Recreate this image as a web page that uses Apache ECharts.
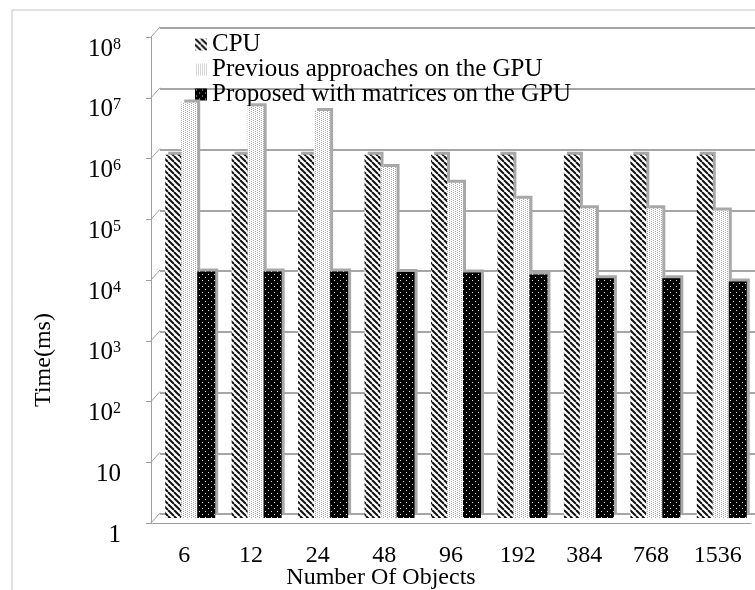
<!DOCTYPE html>
<html>
<head>
<meta charset="utf-8">
<script src="https://cdn.jsdelivr.net/npm/echarts@6/dist/echarts.min.js"></script>
<style>
  html, body { margin: 0; padding: 0; background: #fff; }
  #chart { width: 755px; height: 590px; }
</style>
</head>
<body>
<div id="chart"></div>
<script>
// values (ms, log scale)
const categories = ['6', '12', '24', '48', '96', '192', '384', '768', '1536']
const cpuTimes = [950000, 950000, 950000, 950000, 950000, 950000, 950000, 950000, 950000]
const previousTimes = [6900000, 6000000, 5000000, 600000, 330000, 180000, 125000, 125000, 115000]
const proposedTimes = [11400, 11400, 11400, 11200, 11000, 10200, 8800, 8800, 7800]
const yTicks = [1, 10, 100, 1000, 10000, 100000, 1000000, 10000000, 100000000]
const seriesNames = ['CPU', 'Previous approaches on the GPU', 'Proposed with matrices on the GPU']

const font = "'Liberation Serif', 'Times New Roman', serif"
const gray = '#9f9f9f'

// fill patterns, like the old excel ones
function makeTile (w, h, bg, draw) {
  let c = document.createElement('canvas')
  c.width = w
  c.height = h
  let ctx = c.getContext('2d')
  ctx.fillStyle = bg
  ctx.fillRect(0, 0, w, h)
  draw(ctx)
  return c
}
const hatch = makeTile(6, 6, '#fff', function (ctx) {
  ctx.strokeStyle = '#111'
  ctx.lineWidth = 2
  for (let i = -1; i <= 1; i++) {
    ctx.beginPath()
    ctx.moveTo(i * 6, 0)
    ctx.lineTo(i * 6 + 6, 6)
    ctx.stroke()
  }
})
const lightDots = makeTile(4, 4, '#fff', function (ctx) {
  ctx.fillStyle = '#aaa'
  ctx.fillRect(1, 0, 1, 1)
  ctx.fillRect(1, 2, 1, 1)
  ctx.fillRect(3, 1, 1, 1)
  ctx.fillRect(3, 3, 1, 1)
})
const darkDots = makeTile(6, 6, '#000', function (ctx) {
  ctx.fillStyle = '#ddd'
  ctx.fillRect(1, 1, 1, 1)
  ctx.fillRect(4, 4, 1, 1)
})
const fills = [hatch, lightDots, darkDots]
const values = [cpuTimes, previousTimes, proposedTimes]
const widths = [16, 16, 18]

function tickLabel (v) {
  let e = Math.round(Math.log10(v))
  if (e === 0) return '{b|1}'
  if (e === 1) return '{b|10}'
  return '{b|10}{s|' + e + '}'
}

let barSeries = seriesNames.map(function (name, i) {
  return {
    name: name,
    type: 'bar',
    xAxisIndex: 1,
    yAxisIndex: 1,
    barWidth: widths[i],
    barGap: '0%',
    data: values[i],
    itemStyle: {
      color: { image: fills[i], repeat: 'repeat' },
      shadowColor: '#a8a8a8',
      shadowOffsetX: 3,
      shadowOffsetY: -3,
      shadowBlur: 0
    },
    z: 3 + i
  }
})

let myChart = echarts.init(document.getElementById('chart'))
myChart.setOption({
  animation: false,
  textStyle: { fontFamily: font, color: '#000' },
  graphic: [{
    type: 'rect',
    shape: { x: 12, y: 10, width: 800, height: 700 },
    style: { fill: 'none', stroke: '#c4c4c4', lineWidth: 1 },
    z: -1
  }],
  legend: {
    data: seriesNames,
    orient: 'vertical',
    left: 190,
    top: 27,
    itemWidth: 12,
    itemHeight: 12,
    itemGap: 0,
    icon: 'rect',
    textStyle: { fontFamily: font, fontSize: 25, color: '#000', lineHeight: 25 }
  },
  grid: [
    // back wall
    { left: 160, top: 28, bottom: 76, right: -3, outerBoundsMode: 'none' },
    // bars, half way in depth
    { left: 157, top: 32, bottom: 72, right: 0, outerBoundsMode: 'none' },
    // front axes
    { left: 151, top: 37, bottom: 67, right: 4, outerBoundsMode: 'none' }
  ],
  xAxis: [
    { type: 'category', gridIndex: 0, data: categories, show: false },
    { type: 'category', gridIndex: 1, data: categories, show: false },
    {
      type: 'category',
      gridIndex: 2,
      data: categories,
      axisLine: { lineStyle: { color: gray } },
      axisTick: { length: 8, lineStyle: { color: gray } },
      axisLabel: { fontSize: 24, color: '#000', fontFamily: font, margin: 21 },
      name: 'Number Of Objects',
      nameLocation: 'middle',
      nameGap: 43,
      nameMoveOverlap: false,
      nameTextStyle: { fontSize: 24, color: '#000', fontFamily: font, padding: [0, 140, 0, 0] }
    }
  ],
  yAxis: [
    {
      type: 'log',
      logBase: 10,
      gridIndex: 0,
      min: 1,
      max: 100000000,
      splitNumber: 8,
      axisLine: { show: false },
      axisTick: { show: false },
      axisLabel: { show: false },
      splitLine: { lineStyle: { color: '#a6a6a6', width: 2 } }
    },
    {
      type: 'log',
      logBase: 10,
      gridIndex: 1,
      min: 1,
      max: 100000000,
      splitNumber: 8,
      show: false
    },
    {
      type: 'log',
      logBase: 10,
      gridIndex: 2,
      min: 1,
      max: 100000000,
      splitNumber: 8,
      axisLine: { show: true, lineStyle: { color: gray } },
      axisTick: { show: true, length: 5, lineStyle: { color: gray } },
      splitLine: { show: false },
      axisLabel: {
        margin: 30,
        padding: [24, 0, 0, 0],
        formatter: tickLabel,
        rich: {
          b: { fontSize: 25, fontFamily: font, color: '#000' },
          s: { fontSize: 16, fontFamily: font, color: '#000', verticalAlign: 'top' }
        }
      },
      name: 'Time(ms)',
      nameLocation: 'middle',
      nameGap: 95,
      nameMoveOverlap: false,
      nameTextStyle: { fontSize: 24, color: '#000', fontFamily: font, padding: [0, 160, 0, 0] }
    }
  ],
  series: barSeries.concat([{
    // slanted side-wall ticks joining the front axis to the back grid lines
    type: 'custom',
    xAxisIndex: 2,
    yAxisIndex: 2,
    silent: true,
    z: 1,
    data: yTicks.map(function (v) { return [0, v] }),
    renderItem: function (params, api) {
      let p = api.coord([0, api.value(1)])
      let x = params.coordSys.x
      return {
        type: 'line',
        shape: { x1: x, y1: p[1], x2: x + 9, y2: p[1] - 10 },
        style: { stroke: gray, lineWidth: 1 }
      }
    }
  }])
})
window.onresize = function () {
  myChart.resize()
}
</script>
</body>
</html>
